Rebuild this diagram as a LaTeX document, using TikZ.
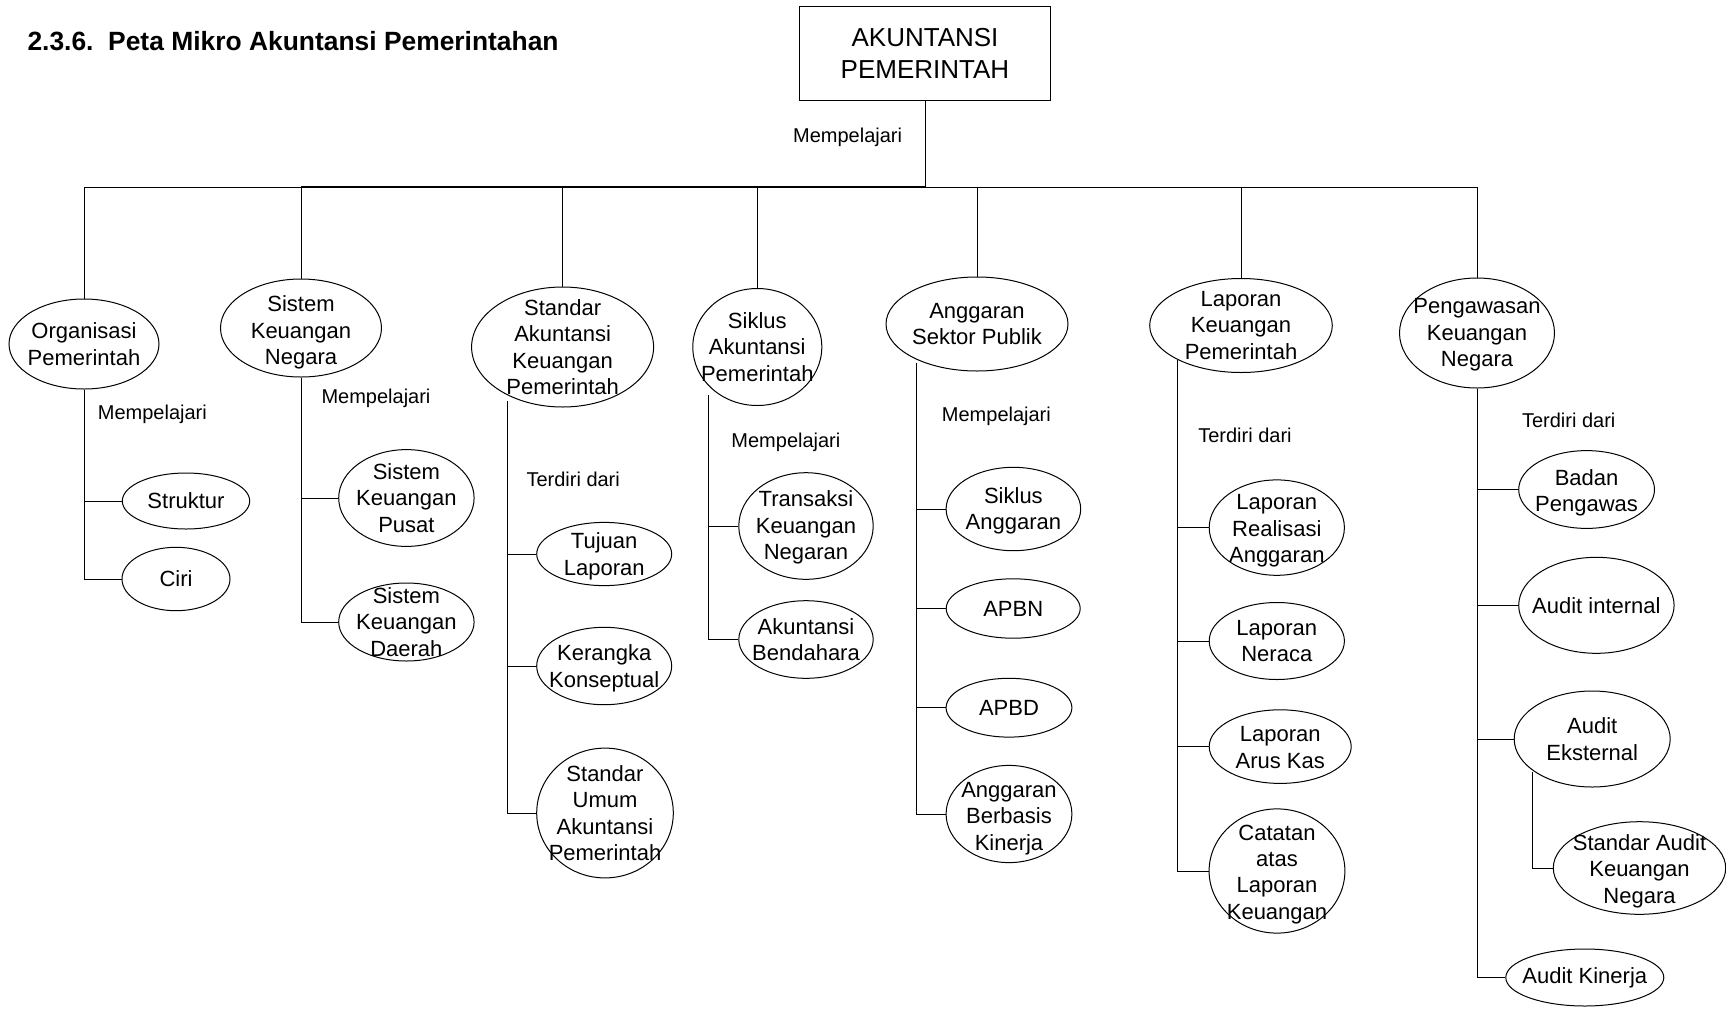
\documentclass[tikz,border=0pt]{standalone}
\usepackage{fontspec}
\setmainfont{Liberation Sans}
\usetikzlibrary{shapes.geometric}

\tikzset{
	oval/.style 2 args={draw,ellipse,inner sep=0pt,minimum width=#1pt,minimum height=#2pt},
	txt/.style={align=center,inner sep=0pt,font=\fontsize{11}{13.2}\selectfont},
	lbl/.style={inner sep=0pt,font=\fontsize{10}{12}\selectfont}
}

\begin{document}
\begin{tikzpicture}[x=0.5pt,y=-0.5pt,line width=0.5pt]
		\useasboundingbox (0,0) rectangle (1726,1008);
	
		\node[anchor=west,inner sep=0pt,font=\bfseries\fontsize{13.2}{15}\selectfont] (title) at (27,41) {2.3.6.\ \ Peta Mikro Akuntansi Pemerintahan};
		
		\node[draw,minimum width=125.8pt,minimum height=47pt,align=center,font=\fontsize{13}{16}\selectfont] (root) at (925,53) {AKUNTANSI\\PEMERINTAH};
		\coordinate (bus) at (925,187);
		\draw (root) -- (bus);
		\node[lbl] (m0) at (847.6,137.6) {Mempelajari};
		
		\node[oval={75}{45}] (org) at (84,344) {};
		\node[txt] at (org) {Organisasi\\Pemerintah};
		\node[oval={80.5}{49}] (skn) at (301,328) {};
		\node[txt,yshift=-2.2pt] at (skn) {Sistem\\Keuangan\\Negara};
		\node[oval={91}{60}] (sakp) at (562.6,347) {};
		\node[txt] at (sakp) {Standar\\Akuntansi\\Keuangan\\Pemerintah};
		\node[oval={64.5}{58.5}] (sap) at (757.3,347) {};
		\node[txt] at (sap) {Siklus\\Akuntansi\\Pemerintah};
		\node[oval={91}{47}] (asp) at (977,324) {};
		\node[txt] at (asp) {Anggaran\\Sektor Publik};
		\node[oval={91.3}{47}] (lkp) at (1241,325.5) {};
		\node[txt] at (lkp) {Laporan\\Keuangan\\Pemerintah};
		\node[oval={77.5}{55}] (pkn) at (1477,333) {};
		\node[txt,yshift=-1pt] at (pkn) {Pengawasan\\Keuangan\\Negara};
		
		\draw (org.north |- bus) -- (pkn.north |- bus);
		\draw[line width=1.1pt] (skn.north |- bus) -- (bus);
		\foreach \n in {org,skn,sakp,sap,asp,lkp,pkn}
			\draw (\n.north) -- (\n.north |- bus);
		
		\node[lbl] (m1) at (152.4,414) {Mempelajari};
		\node[oval={63.7}{28}] (struktur) at (186,501) {};
		\node[txt] at (struktur) {Struktur};
		\node[oval={54}{31.7}] (ciri) at (176,579) {};
		\node[txt] at (ciri) {Ciri};
		\draw (org.south) |- (ciri.west);
		\draw (struktur.west) -- (struktur.west -| org.south);
		
		\node[lbl] (m2) at (376,398) {Mempelajari};
		\node[oval={67.7}{48.4}] (skp) at (406.4,498) {};
		\node[txt] at (skp) {Sistem\\Keuangan\\Pusat};
		\node[oval={67.7}{39}] (skd) at (406.4,622) {};
		\node[txt] at (skd) {Sistem\\Keuangan\\Daerah};
		\draw (skn.south) |- (skd.west);
		\draw (skp.west) -- (skp.west -| skn.south);
		
		\node[lbl] (t1) at (573.2,479.3) {Terdiri dari};
		\coordinate (sakp-top) at (507,401);
		\node[oval={67.5}{31.6}] (tl) at (604.2,554) {};
		\node[txt,yshift=-1.1pt] at (tl) {Tujuan\\Laporan};
		\node[oval={67.5}{38.7}] (kk) at (604.2,666) {};
		\node[txt,yshift=-1.1pt] at (kk) {Kerangka\\Konseptual};
		\node[oval={68.3}{64.9}] (suap) at (605,813) {};
		\node[txt] at (suap) {Standar\\Umum\\Akuntansi\\Pemerintah};
		\draw (sakp-top) |- (suap.west);
		\foreach \n in {tl,kk}
			\draw (\n.west) -- (\n.west -| sakp-top);
		
		\node[lbl] (m3) at (785.9,442) {Mempelajari};
		\coordinate (sap-top) at (708,395);
		\node[oval={67.2}{53.3}] (tkn) at (806,526) {};
		\node[txt,yshift=-0.8pt] at (tkn) {Transaksi\\Keuangan\\Negaran};
		\node[oval={67.2}{38.8}] (ab) at (806,639.5) {};
		\node[txt] at (ab) {Akuntansi\\Bendahara};
		\draw (sap-top) |- (ab.west);
		\draw (tkn.west) -- (tkn.west -| sap-top);
		
		\node[lbl] (m4) at (996.4,416.8) {Mempelajari};
		\coordinate (asp-top) at (916,363);
		\node[oval={67.3}{41.7}] (sa) at (1013.4,509) {};
		\node[txt,yshift=-0.8pt] at (sa) {Siklus\\Anggaran};
		\node[oval={67}{29.7}] (apbn) at (1013.2,608.5) {};
		\node[txt] at (apbn) {APBN};
		\node[oval={62.9}{29.4}] (apbd) at (1009,707.7) {};
		\node[txt] at (apbd) {APBD};
		\node[oval={62.9}{48.6}] (abk) at (1009,814) {};
		\node[txt,yshift=-2.2pt] at (abk) {Anggaran\\Berbasis\\Kinerja};
		\draw (asp-top) |- (abk.west);
		\foreach \n in {sa,apbn,apbd}
			\draw (\n.west) -- (\n.west -| asp-top);
		
		\node[lbl] (t2) at (1245,435) {Terdiri dari};
		\coordinate (lkp-top) at (1177,360);
		\node[oval={67.6}{47.7}] (lra) at (1276.8,527.6) {};
		\node[txt,yshift=-1.6pt] at (lra) {Laporan\\Realisasi\\Anggaran};
		\node[oval={67.6}{38.5}] (ln) at (1276.8,641) {};
		\node[txt] at (ln) {Laporan\\Neraca};
		\node[oval={71}{36.8}] (lak) at (1280.2,746.6) {};
		\node[txt,yshift=-0.5pt] at (lak) {Laporan\\Arus Kas};
		\node[oval={67.9}{62.1}] (calk) at (1277,871) {};
		\node[txt,yshift=-1.6pt] at (calk) {Catatan\\atas\\Laporan\\Keuangan};
		\draw (lkp-top) |- (calk.west);
		\foreach \n in {lra,ln,lak}
			\draw (\n.west) -- (\n.west -| lkp-top);
		
		\node[lbl] (t3) at (1568.7,420) {Terdiri dari};
		\node[oval={67.9}{38.9}] (bp) at (1586.6,489.5) {};
		\node[txt,yshift=-1.6pt] at (bp) {Badan\\Pengawas};
		\node[oval={77.7}{48}] (ai) at (1596.4,605.3) {};
		\node[txt] at (ai) {Audit internal};
		\node[oval={78}{48}] (ae) at (1592.2,739) {};
		\node[txt] at (ae) {Audit\\Eksternal};
		\node[oval={86.2}{46.3}] (saekn) at (1639.5,868) {};
		\node[txt,yshift=-1.6pt] at (saekn) {Standar Audit\\Keuangan\\Negara};
		\node[oval={79}{28.5}] (ak) at (1584.8,977.5) {};
		\node[txt] at (ak) {Audit Kinerja};
		\draw (pkn.south) |- (ak.west);
		\foreach \n in {bp,ai,ae}
			\draw (\n.west) -- (\n.west -| pkn.south);
		\coordinate (ae-bot) at (1532.3,772);
		\draw (ae-bot) |- (saekn.west);
	\end{tikzpicture}
\end{document}
